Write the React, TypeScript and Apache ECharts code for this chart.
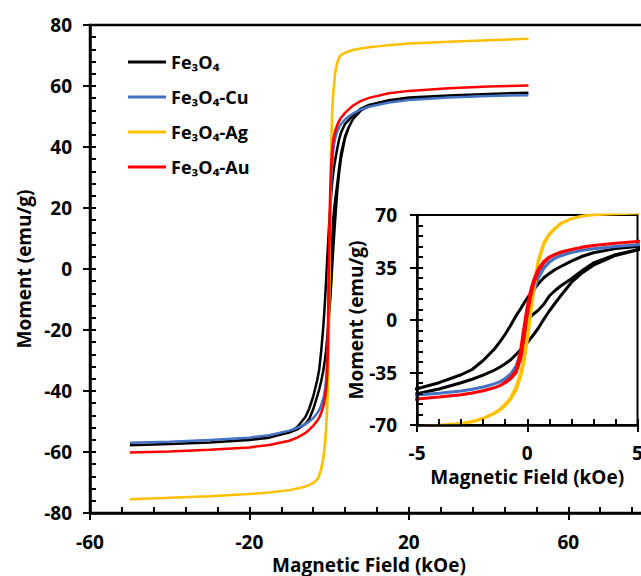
import React, { useEffect, useRef } from "react";
import * as echarts from "echarts";

// ---------- data ----------
const SERIES_NAMES = ["Fe₃O₄", "Fe₃O₄-Cu", "Fe₃O₄-Ag", "Fe₃O₄-Au"];
const SERIES_COLORS = ["#000000", "#4472C4", "#FFC000", "#FF0000"];

// applied field grid (kOe), ascending
const FIELD = [-50, -40, -30, -20, -15, -10, -8, -6, -5, -4, -3, -2.5, -2, -1.5, -1.25, -1, -0.75, -0.5, -0.3, -0.15, 0,
  0.15, 0.3, 0.5, 0.75, 1, 1.25, 1.5, 2, 2.5, 3, 4, 5, 6, 8, 10, 15, 20, 30, 40, 50];

// Fe3O4
const FE_ASC = [-57.8, -57.4, -56.9, -56.0, -55.2, -53.6, -52.6, -50.8, -49.2, -46.0, -41.8, -39.5, -36.8, -33.5, -31.5, -29.2, -26.5, -22.8, -19.8, -17.4, -15.0,
  -12.3, -9.5, -5.5, 0.5, 6.0, 11.0, 15.8, 25.0, 31.5, 36.5, 43.0, 46.7, 49.2, 52.0, 53.4, 55.2, 56.1, 56.9, 57.4, 57.8];
const FE_DESC = [-57.8, -57.4, -56.9, -56.1, -55.3, -53.5, -51.8, -48.6, -45.8, -41.8, -36.5, -33.0, -27.0, -19.5, -14.8, -9.5, -3.5, 3.0, 7.5, 11.2, 14.5,
  17.5, 20.5, 24.2, 28.2, 31.0, 33.5, 35.5, 39.3, 42.5, 44.8, 47.6, 49.0, 50.5, 52.6, 53.8, 55.3, 56.2, 56.9, 57.4, 57.8];
const FE_VIRGIN_FIELD = [0, 0.15, 0.3, 0.5, 0.75, 1, 1.25, 1.5, 2, 2.5, 3, 4, 5, 6, 8, 10, 15, 20, 30, 40, 50];
const FE_VIRGIN = [0, 2.2, 4.2, 6.5, 10.5, 16.0, 19.5, 22.5, 27.5, 33.0, 38.0, 43.5, 46.8, 49.2, 52.0, 53.4, 55.2, 56.1, 56.9, 57.4, 57.8];

// Fe3O4-Cu
const CU_ASC = [-57.0, -56.6, -56.1, -55.3, -54.5, -53.0, -52.1, -50.9, -50.0, -48.9, -47.3, -46.2, -44.7, -42.6, -41.2, -39.3, -36.7, -32.0, -25.5, -16.5, -3.5,
  9.0, 19.5, 28.0, 34.3, 38.5, 41.0, 42.7, 45.0, 46.5, 47.5, 49.0, 50.1, 51.0, 52.3, 53.2, 54.6, 55.4, 56.2, 56.7, 57.0];
const CU_DESC = [-57.0, -56.6, -56.1, -55.3, -54.5, -53.0, -52.1, -50.9, -50.0, -48.9, -47.3, -46.2, -44.7, -42.6, -41.2, -39.0, -36.0, -30.5, -22.0, -12.0, 1.0,
  12.5, 22.0, 29.5, 35.0, 38.8, 41.2, 42.8, 45.0, 46.5, 47.5, 49.0, 50.1, 51.0, 52.3, 53.2, 54.6, 55.4, 56.2, 56.7, 57.0];

// Fe3O4-Ag
const AG_ASC = [-75.5, -75.0, -74.5, -73.8, -73.3, -72.5, -72.0, -71.3, -70.8, -70.2, -69.0, -67.8, -65.8, -62.5, -60.2, -57.0, -52.8, -46.5, -38.0, -28.0, -14.0,
  3.5, 20.5, 38.0, 50.5, 56.8, 60.8, 64.0, 67.5, 69.3, 70.2, 70.9, 71.4, 71.8, 72.3, 72.7, 73.4, 73.9, 74.5, 75.0, 75.5];
const AG_DESC = [-75.5, -75.0, -74.5, -73.8, -73.3, -72.5, -72.0, -71.3, -70.8, -70.2, -69.0, -67.6, -65.5, -62.0, -59.6, -56.2, -51.8, -44.5, -35.5, -24.5, -10.0,
  7.5, 24.0, 40.0, 51.5, 57.3, 61.1, 64.2, 67.6, 69.4, 70.2, 70.9, 71.4, 71.8, 72.3, 72.7, 73.4, 73.9, 74.5, 75.0, 75.5];

// Fe3O4-Au
const AU_ASC = [-60.2, -59.8, -59.3, -58.5, -57.7, -56.3, -55.3, -53.8, -52.7, -51.4, -49.8, -48.7, -47.2, -45.2, -43.8, -41.8, -39.2, -35.0, -25.5, -12.0, 3.5,
  15.5, 24.5, 32.5, 38.0, 41.5, 43.5, 45.0, 47.0, 48.5, 49.6, 51.2, 52.4, 53.6, 55.1, 56.1, 57.6, 58.4, 59.3, 59.8, 60.2];
const AU_DESC = [-60.2, -59.8, -59.3, -58.5, -57.7, -56.3, -55.3, -53.8, -52.7, -51.4, -49.8, -48.7, -47.2, -45.2, -43.8, -41.6, -38.5, -33.5, -20.0, -5.0, 9.0,
  19.5, 27.0, 34.0, 39.0, 42.0, 43.8, 45.2, 47.1, 48.6, 49.6, 51.2, 52.4, 53.6, 55.1, 56.1, 57.6, 58.4, 59.3, 59.8, 60.2];

const FONT = '"Open Sans", Lato, "DejaVu Sans", sans-serif';

function buildLoop(asc: number[], desc: number[], vField?: number[], virgin?: number[]) {
  const pts: number[][] = [];
  if (vField && virgin) vField.forEach((f, i) => pts.push([f, virgin[i]]));
  for (let i = FIELD.length - 1; i >= 0; i--) pts.push([FIELD[i], desc[i]]);
  for (let i = 0; i < FIELD.length; i++) pts.push([FIELD[i], asc[i]]);
  return pts;
}

const LOOPS = [
  buildLoop(FE_ASC, FE_DESC, FE_VIRGIN_FIELD, FE_VIRGIN),
  buildLoop(CU_ASC, CU_DESC),
  buildLoop(AG_ASC, AG_DESC),
  buildLoop(AU_ASC, AU_DESC),
];

const labelStyle = { color: "#000", fontSize: 19, fontWeight: "bold", fontFamily: FONT };

function mainAxis(kind: "x" | "y", grid: number, min: number, max: number, interval: number, split: number,
  margin: number, name: string, nameGap: number, z: number, showMax: boolean) {
  return [
    {
      type: "value", gridIndex: grid, min, max, interval, position: kind === "x" ? "bottom" : "left", z,
      axisLine: { show: true, onZero: false, lineStyle: { color: "#000", width: 2.5 } },
      axisTick: { show: true, inside: true, length: 6, lineStyle: { color: "#000", width: 2 } },
      minorTick: { show: true, splitNumber: split, length: 6, lineStyle: { color: "#000", width: 2 } },
      splitLine: { show: false }, minorSplitLine: { show: false },
      axisLabel: { ...labelStyle, margin, hideOverlap: false, showMaxLabel: showMax },
      name, nameLocation: "middle", nameGap,
      nameTextStyle: { ...labelStyle },
    },
    {
      type: "value", gridIndex: grid, min, max, interval, position: kind === "x" ? "bottom" : "left", z,
      axisLine: { show: false, onZero: false },
      axisTick: { show: true, inside: false, length: 7, lineStyle: { color: "#000", width: 2 } },
      splitLine: { show: false },
      axisLabel: { show: false },
    },
  ];
}

export default function App() {
  const ref = useRef<HTMLDivElement>(null);
  useEffect(() => {
    document.body.style.margin = "0";
    const chart = echarts.init(ref.current!, null, { renderer: "svg" });
    const mainSeries = LOOPS.map((d, i) => ({
      type: "line", name: SERIES_NAMES[i], data: d, xAxisIndex: 0, yAxisIndex: 0,
      symbol: "none", smooth: false, z: 2,
      lineStyle: { color: SERIES_COLORS[i], width: 2.5 }, itemStyle: { color: SERIES_COLORS[i] },
    }));
    const insetSeries = LOOPS.map((d, i) => ({
      type: "line", name: SERIES_NAMES[i], data: d, xAxisIndex: 2, yAxisIndex: 2,
      symbol: "none", smooth: false, z: 11, clip: true,
      lineStyle: { color: SERIES_COLORS[i], width: 3 }, itemStyle: { color: SERIES_COLORS[i] },
    }));
    chart.setOption({
      animation: false,
      backgroundColor: "#fff",
      grid: [
        { left: 90, top: 25, width: 558, height: 488, show: true, borderColor: "#000", borderWidth: 2.5,
          backgroundColor: "transparent", outerBoundsMode: "none", containLabel: false },
        { left: 417, top: 215, width: 220.5, height: 210, show: true, borderColor: "#000", borderWidth: 2,
          backgroundColor: "#fff", z: 10, outerBoundsMode: "none", containLabel: false },
      ],
      legend: {
        left: 128, top: 52, orient: "vertical", icon: "rect", itemWidth: 38, itemHeight: 3, itemGap: 15, padding: 0,
        textStyle: { color: "#000", fontSize: 18, fontWeight: "bold", fontFamily: FONT, lineHeight: 20 },
        data: SERIES_NAMES,
      },
      xAxis: [
        ...mainAxis("x", 0, -60, 80, 40, 5, 19, "Magnetic Field (kOe)", 39, 0, false),
        ...mainAxis("x", 1, -5, 5, 5, 5, 18.5, "Magnetic Field (kOe)", 42, 12, true),
      ],
      yAxis: [
        ...mainAxis("y", 0, -80, 80, 20, 5, 18, "Moment (emu/g)", 56.5, 0, true),
        ...mainAxis("y", 1, -70, 70, 35, 5, 20, "Moment (emu/g)", 48.5, 12, true),
      ],
      series: [...mainSeries, ...insetSeries],
    });
    return () => chart.dispose();
  }, []);
  return <div ref={ref} style={{ width: 641, height: 576 }} />;
}
